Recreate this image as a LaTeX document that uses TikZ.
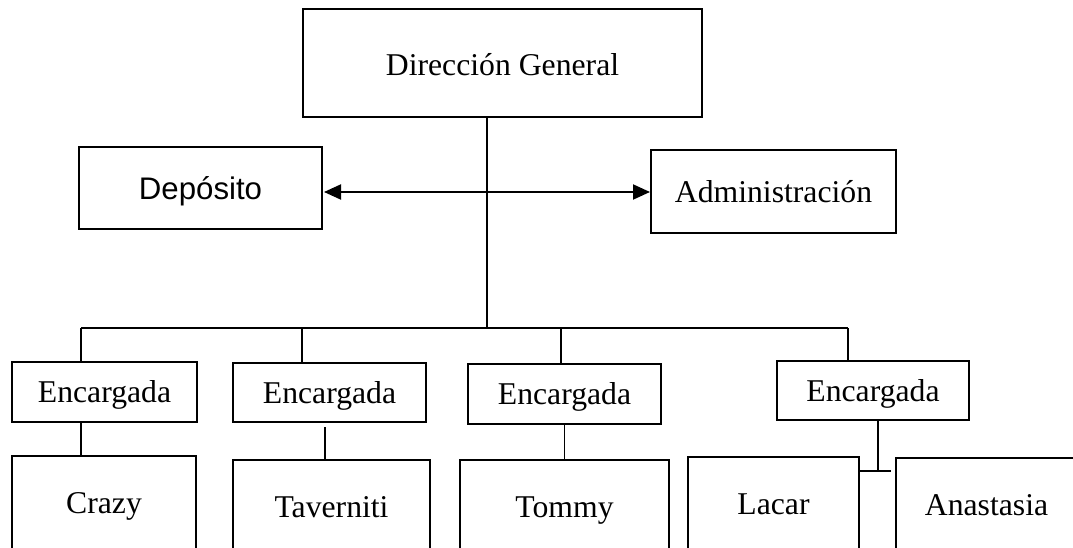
\documentclass[tikz,border=0pt]{standalone}
\usepackage{fontspec}
\setmainfont{Liberation Serif}
\newfontfamily\arialf{Liberation Sans}
\usetikzlibrary{arrows.meta}
\tikzset{
  orgbox/.style={draw, line width=2.8pt, inner sep=0pt, outer sep=0pt,
    font=\fontsize{31.7}{38}\selectfont, text height=21pt, text depth=0pt},
  sansbox/.style={orgbox, font=\fontsize{31.2}{38}\selectfont\arialf, text height=24pt},
  link/.style={line width=1.1pt},
  dbl/.style={line width=2pt, {Triangle[length=17pt,width=15pt]}-{Triangle[length=17pt,width=15pt]}}
}
\begin{document}
\begin{tikzpicture}[x=1pt,y=-1pt]
\clip (0,0) rectangle (1073,548);
\fill[white] (0,0) rectangle (1073,548);
% top level
\node[orgbox, text height=26pt, minimum width=399pt, minimum height=108pt] (dg) at (502.5,63) {Dirección General};
\node[sansbox, minimum width=243pt, minimum height=82pt] (dep) at (200.5,188) {Depósito};
\node[orgbox, text height=23pt, minimum width=245pt, minimum height=83pt] (adm) at (773.5,191.5) {Administración};
% encargadas
\node[orgbox, minimum width=185pt, minimum height=60pt] (e1) at (104.5,392) {Encargada};
\node[orgbox, minimum width=193pt, minimum height=59pt] (e2) at (329.5,392.5) {Encargada};
\node[orgbox, minimum width=193pt, minimum height=60pt] (e3) at (564.5,394) {Encargada};
\node[orgbox, minimum width=192pt, minimum height=59pt] (e4) at (873,390.5) {Encargada};
% bottom
\node[orgbox, minimum width=184pt, minimum height=94pt] (crazy) at (104,503) {Crazy};
\node[orgbox, minimum width=197pt, minimum height=94pt] (tav) at (331.5,507) {Taverniti};
\node[orgbox, minimum width=209pt, minimum height=94pt] (tommy) at (564.5,507) {Tommy};
\node[orgbox, minimum width=171pt, minimum height=94pt] (lacar) at (773.5,504) {Lacar};
\node[orgbox, minimum width=181pt, minimum height=94pt] (anast) at (986.5,505) {Anastasia};
% coordinates
\coordinate (hub) at (487,328);
\coordinate (hl) at (81,328);
\coordinate (t2) at (302,328);
\coordinate (t3) at (561,328);
\coordinate (hr) at (848,328);
\coordinate (j) at (878,471);
\coordinate (ay) at (0,192);
% connectors
\draw[link] (dg.south -| hub) -- (hub);
\draw[link] (hl) -- (hr);
\draw[link, line width=1.6pt] (hl) -- (hl |- e1.north);
\draw[link] (t2) -- (t2 |- e2.north);
\draw[link] (t3) -- (t3 |- e3.north);
\draw[link] (hr) -- (hr |- e4.north);
\draw[link] (e1.south -| hl) -- (crazy.north -| hl);
\draw[link] ([shift={(-4.5,5)}]e2.south) -- ([xshift=-6.5pt]tav.north);
\draw[link] (e3.south) -- (tommy.north);
\draw[link] (e4.south -| j) -- (j);
\draw[link, shorten >=5pt] (lacar.east |- j) -- (anast.west |- j);
\draw[dbl, shorten <=2pt, shorten >=1pt] (dep.east |- ay) -- (adm.west |- ay);
\end{tikzpicture}
\end{document}
